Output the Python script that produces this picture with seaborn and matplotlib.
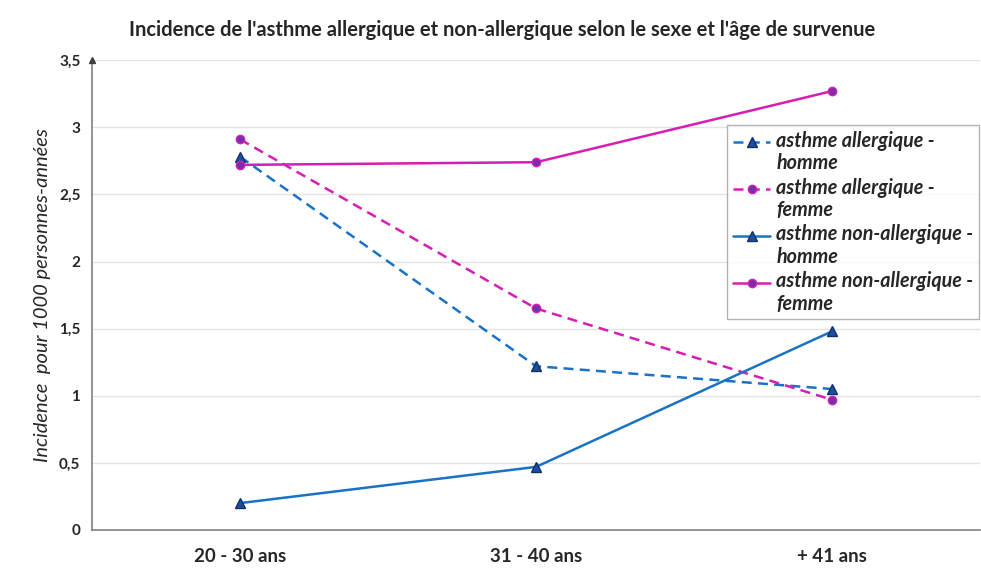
import matplotlib
matplotlib.use("Agg")
import matplotlib.pyplot as plt
import seaborn as sns
import pandas as pd
from matplotlib.ticker import FuncFormatter
from matplotlib.legend_handler import HandlerLine2D

categories = ["20 - 30 ans", "31 - 40 ans", "+ 41 ans"]
allergique_homme = [2.78, 1.22, 1.05]
allergique_femme = [2.91, 1.65, 0.97]
non_allergique_homme = [0.20, 0.47, 1.48]
non_allergique_femme = [2.72, 2.74, 3.27]
series_labels = ["asthme allergique -\nhomme", "asthme allergique -\nfemme",
                 "asthme non-allergique -\nhomme", "asthme non-allergique -\nfemme"]

sns.set_theme(style="white")
plt.rcParams['font.family'] = ['Lato', 'DejaVu Sans']

fig = plt.figure(figsize=(9.81, 5.68), dpi=100)
ax = fig.add_axes([0.094, 0.067, 0.905, 0.827])

blue = "#1a72c4"
pink = "#d61db5"
styles = [
    (allergique_homme, blue, (0, (4, 2.5)), "^", "#1f4e9a", "#10306a", 7),
    (allergique_femme, pink, (0, (4, 2.5)), "o", "#7a2fa8", pink, 6),
    (non_allergique_homme, blue, "-", "^", "#1f4e9a", "#10306a", 7),
    (non_allergique_femme, pink, "-", "o", "#7a2fa8", pink, 6),
]
x = list(range(len(categories)))
for (vals, col, ls, mk, mfc, mec, ms), lab in zip(styles, series_labels):
    df = pd.DataFrame({"x": x, "y": vals})
    sns.lineplot(data=df, x="x", y="y", ax=ax, color=col, linestyle=ls, linewidth=1.8,
                 marker=mk, markersize=ms, markerfacecolor=mfc, markeredgecolor=mec,
                 markeredgewidth=1.0, label=lab)

ax.set_xlim(-0.5, 2.5)
ax.set_ylim(0, 3.5)
ax.set_yticks([0, 0.5, 1, 1.5, 2, 2.5, 3, 3.5])
ax.yaxis.set_major_formatter(FuncFormatter(lambda v, p: ("%g" % v).replace(".", ",")))
ax.set_xticks(x)
ax.set_xticklabels(categories, fontsize=13.5, fontweight="bold")
ax.set_xticks([-0.5, 0.5, 1.5, 2.5], minor=True)
ax.tick_params(axis="x", which="major", length=0, pad=13)
ax.tick_params(axis="x", which="minor", length=5, width=1, color="#808080", direction="out")
ax.tick_params(axis="y", length=5, width=1, color="#808080", direction="out", labelsize=11)
for t in ax.get_yticklabels():
    t.set_fontweight("bold")
ax.grid(axis="y", color="#e3e3e3", linewidth=1)
ax.set_axisbelow(True)
for s in ["top", "right"]:
    ax.spines[s].set_visible(False)
for s in ["left", "bottom"]:
    ax.spines[s].set_color("#808080")
    ax.spines[s].set_linewidth(1.2)
ax.plot([-0.5], [3.5], marker="^", color="#404040", markersize=5, clip_on=False, zorder=5)

ax.set_xlabel("")
ax.set_ylabel("Incidence  pour 1000 personnes-années", fontsize=14.5, fontstyle="italic", labelpad=6)


class UpHandler(HandlerLine2D):
    def create_artists(self, legend, orig_handle, xdescent, ydescent, width, height,
                       fontsize, trans):
        return super().create_artists(legend, orig_handle, xdescent,
                                      ydescent - 1.1 * fontsize, width, height,
                                      fontsize, trans)


handles, labels = ax.get_legend_handles_labels()
leg = ax.legend(handles, labels, loc="upper left", bbox_to_anchor=(0.715, 0.862), borderaxespad=0,
                frameon=True, fancybox=False,
                edgecolor="#a0a0a0", fontsize=14.2, handlelength=1.9, borderpad=0.3,
                labelspacing=0.22, handletextpad=0.3,
                handler_map={h: UpHandler() for h in handles})
for t in leg.get_texts():
    t.set_fontweight("bold")
    t.set_fontstyle("italic")
    t.set_linespacing(1.15)
leg.get_frame().set_linewidth(1.0)

fig.suptitle("Incidence de l'asthme allergique et non-allergique selon le sexe et l'âge de survenue",
             x=0.512, y=0.965, fontsize=14.5, fontweight="bold")

fig.savefig("out.png", dpi=100)
